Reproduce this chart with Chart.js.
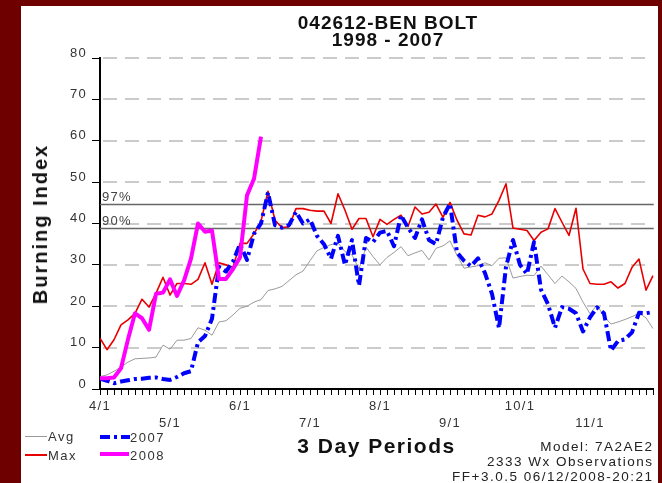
<!DOCTYPE html>
<html><head><meta charset="utf-8">
<script src="https://cdn.jsdelivr.net/npm/chart.js@4.4.1/dist/chart.umd.min.js"></script>
<style>
html,body{margin:0;padding:0;}
body{width:662px;height:483px;background:#6e0000;position:relative;overflow:hidden;font-family:"Liberation Sans",Arial,sans-serif;}
#panel{position:absolute;left:21px;top:6px;width:637px;height:477px;background:#fff;}
#c{position:absolute;left:0;top:0;}
.t{position:absolute;white-space:nowrap;color:#222;}
.lg{font-size:13px;line-height:15px;letter-spacing:1.5px;color:#333;}
.ft{font-size:13.5px;line-height:15.3px;letter-spacing:1.5px;color:#222;text-align:right;}
.ln{position:absolute;height:0;}
</style></head><body>
<div id="panel"></div>
<canvas id="c" width="662" height="483"></canvas>
<div class="t" style="left:188px;top:14px;width:400px;text-align:center;font-weight:bold;font-size:19px;line-height:17px;letter-spacing:1px;color:#111">042612-BEN BOLT<br>1998 - 2007</div>
<div class="t" style="left:40px;top:224px;transform:translate(-50%,-50%) rotate(-90deg);font-weight:bold;font-size:20px;line-height:20px;letter-spacing:2px;color:#111">Burning Index</div>
<div class="t" style="left:176.5px;top:435px;width:400px;text-align:center;font-weight:bold;font-size:21px;line-height:21px;letter-spacing:1.5px;color:#111">3 Day Periods</div>
<div class="ln" style="left:25px;top:435.5px;width:22px;border-top:1px solid #999"></div>
<div class="t lg" style="left:48px;top:428.6px">Avg</div>
<div class="ln" style="left:25px;top:454px;width:22px;border-top:2px solid #e80000"></div>
<div class="t lg" style="left:48px;top:447.6px">Max</div>
<svg style="position:absolute;left:100px;top:434px" width="30" height="6"><line x1="0" y1="3" x2="30" y2="3" stroke="#0000ff" stroke-width="4" stroke-dasharray="10 4 3 4"/></svg>
<div class="t lg" style="left:130px;top:429.6px">2007</div>
<div style="position:absolute;left:100px;top:452px;width:29px;height:4px;background:#ff00ff"></div>
<div class="t lg" style="left:130px;top:447.6px">2008</div>
<div class="t ft" style="right:8.5px;top:438.5px">Model: 7A2AE2<br>2333 Wx Observations<br>FF+3.0.5 06/12/2008-20:21</div>
<script>
const periods = Array.from({length: 80}, (_, i) => i);
const monthLabels = ['4/1','5/1','6/1','7/1','8/1','9/1','10/1','11/1'];
const yTickValues = [0, 10, 20, 30, 40, 50, 60, 70, 80];
const avgValues = [3.0,3.4,4.3,5.3,6.5,7.3,7.4,7.5,7.7,10.6,
  9.6,11.8,11.8,12.2,14.8,14.2,13.0,16.2,16.5,17.9,
  19.5,20.0,21.0,21.6,23.8,24.2,24.8,26.2,27.6,28.5,
  31.0,33.4,34.2,34.9,35.3,33.2,32.4,29.0,34.3,32.0,
  30.0,31.8,33.0,34.4,32.2,32.9,33.5,31.2,34.0,34.6,
  35.8,32.3,29.2,29.5,29.8,30.5,29.8,31.6,31.7,26.8,
  27.2,27.5,27.4,29.7,27.6,25.5,27.3,25.9,24.3,21.0,
  18.2,20.3,17.5,15.7,16.2,16.8,17.5,18.3,17.2,14.6];
const maxValues = [12.3,9.5,11.9,15.5,16.7,18.3,21.7,19.8,23.1,27.0,
  22.7,25.5,25.5,25.3,26.5,30.5,25.3,30.5,30.0,29.4,
  35.2,35.2,37.5,40.5,47.8,40.8,39.0,39.2,43.6,43.6,
  43.2,43.0,43.0,40.0,47.2,43.2,38.6,41.2,41.2,36.8,
  41.0,39.8,41.0,42.0,39.3,44.0,42.3,42.7,44.7,41.5,
  45.1,40.8,37.5,37.2,42.0,41.6,42.3,45.6,49.6,38.9,
  38.6,38.3,35.9,37.9,38.7,43.6,40.3,37.1,43.7,29.0,
  25.5,25.3,25.3,25.9,24.4,25.5,29.4,31.4,23.9,27.4];
const y2007Values = [2.5,2.0,1.4,1.8,2.1,2.4,2.5,2.7,2.8,2.4,
  2.2,2.9,3.8,4.3,11.3,12.8,17.0,29.5,28.4,30.8,
  35.0,31.2,37.5,40.0,47.5,39.6,39.0,39.6,42.8,40.0,
  41.0,37.0,35.0,31.5,37.0,30.0,36.0,25.0,36.5,35.5,
  37.8,38.2,34.5,42.0,39.0,36.5,41.0,36.0,35.0,41.5,
  44.8,33.0,31.0,29.7,31.6,28.0,23.0,14.7,29.5,36.0,
  30.0,27.8,35.5,24.0,20.5,14.8,19.8,19.4,18.3,13.9,
  17.3,19.7,18.3,9.3,11.6,12.0,13.7,18.4,18.3,18.6];
const y2008Values = [2.6,2.6,2.8,5.0,12.0,18.3,17.1,14.3,23.0,23.3,
  26.5,22.5,26.2,31.5,40.0,38.0,38.3,26.6,26.6,29.0,
  31.8,46.8,50.8,61.0];
const pct97 = 44.8;
const pct90 = 38.8;
const pctLabels = ['97%','90%'];

const FONT = '"Liberation Sans", Arial, sans-serif';
const pts = arr => arr.map((v, i) => ({x: periods[i], y: v}));

const gridPlugin = {
  id: 'gridAndPct',
  beforeDatasetsDraw(chart) {
    const ctx = chart.ctx;
    const a = chart.chartArea;
    const y = chart.scales.y;
    ctx.save();
    ctx.fillStyle = '#cbcbcb';
    yTickValues.forEach(v => {
      if (v === 0) return;
      const py = Math.round(y.getPixelForValue(v));
      for (let x = a.left + 3; x < a.right - 3; x += 22) {
        ctx.fillRect(x, py - 1, Math.min(14, a.right - 3 - x), 2);
      }
    });
    [[pct97, pctLabels[0]], [pct90, pctLabels[1]]].forEach(([v, l]) => {
      const py = Math.round(y.getPixelForValue(v)) + 0.5;
      ctx.strokeStyle = '#666'; ctx.lineWidth = 1.5;
      ctx.beginPath(); ctx.moveTo(a.left, py); ctx.lineTo(a.right, py); ctx.stroke();
      ctx.fillStyle = '#444'; ctx.font = '13px ' + FONT;
      ctx.textBaseline = 'bottom'; ctx.textAlign = 'left';
      ctx.fillText(l, a.left + 2, py - 1);
    });
    ctx.restore();
  }
};
const spacingPlugin = {
  id: 'spacing',
  beforeDraw(chart) { chart.ctx.letterSpacing = '1.3px'; }
};

new Chart(document.getElementById('c'), {
  type: 'line',
  data: { datasets: [
    {label: '2008', data: pts(y2008Values), borderColor: '#ff00ff', borderWidth: 4, order: 0},
    {label: '2007', data: pts(y2007Values), borderColor: '#0000ff', borderWidth: 4, borderDash: [10, 4, 3, 4], order: 1},
    {label: 'Max', data: pts(maxValues), borderColor: '#e80000', borderWidth: 1.6, order: 2},
    {label: 'Avg', data: pts(avgValues), borderColor: '#9a9a9a', borderWidth: 1, order: 3}
  ]},
  options: {
    responsive: false,
    animation: false,
    elements: {point: {radius: 0}, line: {tension: 0, borderJoinStyle: 'round'}},
    layout: {padding: {left: 0, right: 8.3, top: 58, bottom: 0}},
    plugins: {legend: {display: false}, tooltip: {enabled: false}, title: {display: false}},
    scales: {
      x: {
        type: 'linear', min: 0, max: 79.1,
        afterBuildTicks: s => { s.ticks = periods.map(v => ({value: v})); },
        afterFit: s => { s.height = 94; },
        grid: {display: true, drawOnChartArea: false, drawTicks: true, tickLength: 6, tickColor: '#000', tickWidth: 1, color: '#000', tickBorderDash: []},
        border: {display: true, color: '#000', width: 2},
        ticks: {
          autoSkip: false, maxRotation: 0, minRotation: 0, padding: 3, color: '#333',
          font: {family: FONT, size: 13, lineHeight: 1.3},
          callback: v => {
            if (v % 10 !== 0) return '';
            const k = v / 10;
            const l = monthLabels[k];
            if (!l) return '';
            return k % 2 === 0 ? [l] : ['', l];
          }
        }
      },
      y: {
        min: 0, max: 80,
        afterBuildTicks: s => { s.ticks = yTickValues.map(v => ({value: v})); },
        afterFit: s => { s.width = 100; },
        ticks: {padding: 5, labelOffset: -5, color: '#333', font: {family: FONT, size: 13}, callback: v => String(v)},
        grid: {display: true, drawOnChartArea: false, drawTicks: true, tickLength: 8, tickColor: '#000', tickWidth: 1, color: '#000', tickBorderDash: []},
        border: {display: true, color: '#000', width: 2}
      }
    }
  },
  plugins: [gridPlugin, spacingPlugin]
});
</script>
</body></html>
